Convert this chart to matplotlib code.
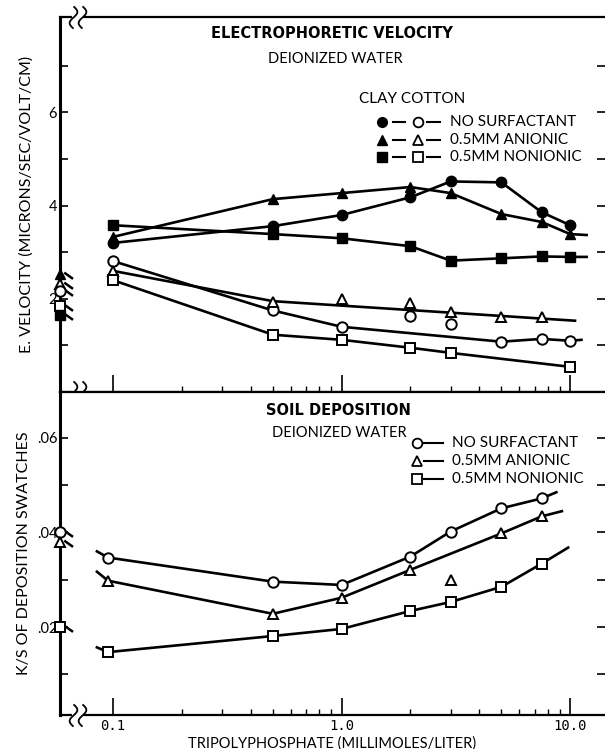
import numpy as np
import matplotlib
matplotlib.use('Agg')
import matplotlib.pyplot as plt
from matplotlib.path import Path
from matplotlib.ticker import FixedLocator, NullFormatter

plt.rcParams['font.family'] = ['Lato', 'DejaVu Sans']

# --- electrophoretic velocity (upper panel) ---
x_vel = [0.1, 0.5, 1.0, 2.0, 3.0, 5.0, 7.5, 10.0]
clay_none = [3.20, 3.56, 3.80, 4.18, 4.52, 4.50, 3.86, 3.58]
clay_anionic = [3.33, 4.14, 4.27, 4.40, 4.27, 3.82, 3.65, 3.39]
clay_nonionic = [3.58, 3.39, 3.30, 3.13, 2.82, 2.87, 2.91, 2.90]
cotton_none = [2.81, 1.75, 1.40, 1.64, 1.47, 1.08, 1.14, 1.10]
x_vel_an = [0.1, 0.5, 1.0, 2.0, 3.0, 5.0, 7.5]
cotton_anionic = [2.60, 1.94, 2.00, 1.91, 1.72, 1.62, 1.61]
x_vel_non = [0.1, 0.5, 1.0, 2.0, 3.0, 10.0]
cotton_nonionic = [2.40, 1.23, 1.12, 0.95, 0.84, 0.54]

# hand drawn curves through the points
clay_anionic_cx = x_vel + [11.8]
clay_anionic_cy = clay_anionic + [3.37]
clay_nonionic_cx = x_vel + [11.8]
clay_nonionic_cy = clay_nonionic + [2.90]
cotton_none_cx = [0.1, 0.5, 1.0, 5.0, 7.5, 10.0, 11.2]
cotton_none_cy = [2.81, 1.75, 1.40, 1.08, 1.14, 1.10, 1.12]
cotton_anionic_cx = [0.1, 0.5, 10.5]
cotton_anionic_cy = [2.60, 1.95, 1.53]

# values at zero tripolyphosphate (drawn on the axis)
vel_zero = {'clay_anionic': 2.53, 'cotton_anionic': 2.32, 'cotton_none': 2.17,
            'cotton_nonionic': 1.85, 'clay_nonionic': 1.66}

# --- soil deposition (lower panel) ---
x_dep = [0.095, 0.5, 1.0, 2.0, 3.0, 5.0, 7.5]
dep_none = [0.0347, 0.0296, 0.0289, 0.0349, 0.0402, 0.0451, 0.0472]
dep_anionic = [0.0298, 0.0228, 0.0262, 0.0321, 0.0300, 0.0398, 0.0434]
dep_nonionic = [0.0147, 0.0181, 0.0196, 0.0234, 0.0253, 0.0285, 0.0334]

dep_none_cx = [0.085, 0.095, 0.5, 1.0, 2.0, 3.0, 5.0, 7.5, 8.7]
dep_none_cy = [0.0360, 0.0347, 0.0296, 0.0289, 0.0349, 0.0402, 0.0451, 0.0472, 0.0485]
dep_anionic_cx = [0.085, 0.095, 0.5, 1.0, 2.0, 5.0, 7.5, 9.2]
dep_anionic_cy = [0.0317, 0.0298, 0.0228, 0.0262, 0.0321, 0.0398, 0.0434, 0.0445]
dep_nonionic_cx = [0.085, 0.095, 0.5, 1.0, 2.0, 3.0, 5.0, 7.5, 9.8]
dep_nonionic_cy = [0.0157, 0.0147, 0.0181, 0.0196, 0.0234, 0.0253, 0.0285, 0.0334, 0.0368]

dep_zero = {'none': 0.0402, 'anionic': 0.0380, 'nonionic': 0.0200}

XMIN, XMAX = 0.0586, 14.2
LW = 1.9
MS = 7.5

# little slanted stroke next to the zero points
tail = Path([(0.3, 0.15), (1.0, -0.35)], [Path.MOVETO, Path.LINETO])
# axis break squiggle
t = np.linspace(-1, 1, 20)
squig = Path(np.column_stack([0.35 * np.sin(np.pi * t), t]))

fig = plt.figure(figsize=(6.05, 7.49), dpi=100)
ax1 = fig.add_axes([60 / 605, 1 - 392 / 749, 545 / 605, 375 / 749])
ax2 = fig.add_axes([60 / 605, 1 - 715 / 749, 545 / 605, 323 / 749])


def closed(ax, x, y, m):
    ax.plot(x, y, linestyle='none', marker=m, ms=MS, color='black', zorder=4)


def opened(ax, x, y, m, ms=MS):
    ax.plot(x, y, linestyle='none', marker=m, ms=ms, color='black', mfc='white',
            mew=1.4, zorder=4)


def zero_pt(ax, y, m, filled):
    x0 = ax.get_xlim()[0]
    ax.plot([x0], [y], marker=tail, ms=18, mew=1.8, color='black', clip_on=False, zorder=3)
    if filled:
        ax.plot([x0], [y], marker=m, ms=MS, color='black', clip_on=False, zorder=5)
    else:
        ax.plot([x0], [y], marker=m, ms=MS, color='black', mfc='white', mew=1.4,
                clip_on=False, zorder=5)


for ax in (ax1, ax2):
    ax.set_xscale('log')
    ax.set_xlim(XMIN, XMAX)

# upper panel
ax1.set_ylim(0, 8.05)
ax1.plot(x_vel, clay_none, color='black', lw=LW)
ax1.plot(clay_anionic_cx, clay_anionic_cy, color='black', lw=LW)
ax1.plot(clay_nonionic_cx, clay_nonionic_cy, color='black', lw=LW)
ax1.plot(cotton_none_cx, cotton_none_cy, color='black', lw=LW)
ax1.plot(cotton_anionic_cx, cotton_anionic_cy, color='black', lw=LW)
ax1.plot(x_vel_non, cotton_nonionic, color='black', lw=LW)
closed(ax1, x_vel, clay_none, 'o')
closed(ax1, x_vel, clay_anionic, '^')
closed(ax1, x_vel, clay_nonionic, 's')
opened(ax1, x_vel, cotton_none, 'o')
opened(ax1, x_vel_an, cotton_anionic, '^')
opened(ax1, x_vel_non, cotton_nonionic, 's')

zero_pt(ax1, vel_zero['clay_anionic'], '^', True)
zero_pt(ax1, vel_zero['cotton_anionic'], '^', False)
zero_pt(ax1, vel_zero['cotton_none'], 'o', False)
zero_pt(ax1, vel_zero['cotton_nonionic'], 's', False)
zero_pt(ax1, vel_zero['clay_nonionic'], 's', True)

# lower panel
ax2.set_ylim(0.0014, 0.0697)
ax2.plot(dep_none_cx, dep_none_cy, color='black', lw=LW)
ax2.plot(dep_anionic_cx, dep_anionic_cy, color='black', lw=LW)
ax2.plot(dep_nonionic_cx, dep_nonionic_cy, color='black', lw=LW)
opened(ax2, x_dep, dep_none, 'o')
opened(ax2, x_dep, dep_anionic, '^')
opened(ax2, x_dep, dep_nonionic, 's')
zero_pt(ax2, dep_zero['none'], 'o', False)
zero_pt(ax2, dep_zero['anionic'], '^', False)
zero_pt(ax2, dep_zero['nonionic'], 's', False)

# axes styling
for ax in (ax1, ax2):
    ax.spines['right'].set_visible(False)
    ax.spines['left'].set_linewidth(2.2)
    ax.spines['top'].set_linewidth(1.6)
    ax.spines['bottom'].set_linewidth(1.6)
    ax.tick_params(axis='y', which='both', direction='in', length=6, width=1.2,
                   right=True, labelsize=10.5, pad=2)
    ax.tick_params(axis='x', which='major', direction='in', length=12, width=1.2, top=False)
    ax.tick_params(axis='x', which='minor', direction='in', length=4, width=1.0, top=False)
    ax.xaxis.set_major_locator(FixedLocator([0.1, 1.0, 10.0]))
    ax.xaxis.set_minor_locator(FixedLocator([0.2, 0.3, 0.4, 0.5, 0.6, 0.7, 0.8, 0.9,
                                             2, 3, 4, 5, 6, 7, 8, 9]))
    ax.xaxis.set_minor_formatter(NullFormatter())

ax1.set_yticks([2, 4, 6])
ax1.set_yticks([1, 3, 5, 7], minor=True)
ax1.set_yticklabels(['2', '4', '6'])
ax1.set_xticklabels([])

ax2.set_yticks([0.02, 0.04, 0.06])
ax2.set_yticks([0.01, 0.03, 0.05], minor=True)
ax2.set_yticklabels(['.02', '.04', '.06'])
ax2.set_xticklabels(['0.1', '1.0', '10.0'], family='DejaVu Sans Mono', fontsize=10)
ax2.tick_params(axis='x', which='major', pad=3)

ax1.set_ylabel('E. VELOCITY (MICRONS/SEC/VOLT/CM)', fontsize=11.5, labelpad=11)
ax2.set_ylabel('K/S OF DEPOSITION SWATCHES', fontsize=11.5, labelpad=4)
ax2.set_xlabel('TRIPOLYPHOSPHATE (MILLIMOLES/LITER)', fontsize=10.5, labelpad=2)

# axis breaks on the horizontal lines
for ax, ys in ((ax1, (0, 1)), (ax2, (0,))):
    for yb in ys:
        ax.plot([0.026, 0.038], [yb, yb], transform=ax.transAxes, color='white',
                lw=3, clip_on=False, zorder=6)
        ax.plot([0.024, 0.040], [yb, yb], transform=ax.transAxes, linestyle='none',
                marker=squig, ms=16, mew=1.3, mfc='none', color='black',
                clip_on=False, zorder=7)

# titles and legends, upper
bold = dict(family='DejaVu Sans', fontweight='bold')
ax1.text(0.499, 0.957, 'ELECTROPHORETIC VELOCITY', transform=ax1.transAxes,
         ha='center', va='center', fontsize=10.5, **bold)
ax1.text(0.506, 0.888, 'DEIONIZED WATER', transform=ax1.transAxes,
         ha='center', va='center', fontsize=10.5)
ax1.text(0.646, 0.781, 'CLAY COTTON', transform=ax1.transAxes,
         ha='center', va='center', fontsize=11)

leg_labels = ['NO SURFACTANT', '0.5MM ANIONIC', '0.5MM NONIONIC']
leg_markers = ['o', '^', 's']
for lab, m, yy in zip(leg_labels, leg_markers, [0.72, 0.672, 0.627]):
    ax1.plot([0.591], [yy], marker=m, ms=7, color='black', transform=ax1.transAxes)
    ax1.plot([0.611, 0.633], [yy, yy], color='black', lw=1.5, transform=ax1.transAxes)
    ax1.plot([0.657], [yy], marker=m, ms=7, color='black', mfc='white', mew=1.3,
             transform=ax1.transAxes)
    ax1.plot([0.673, 0.697], [yy, yy], color='black', lw=1.5, transform=ax1.transAxes)
    ax1.text(0.716, yy, lab, transform=ax1.transAxes, va='center', ha='left', fontsize=11)

# titles and legend, lower
ax2.text(0.51, 0.944, 'SOIL DEPOSITION', transform=ax2.transAxes,
         ha='center', va='center', fontsize=10.5, **bold)
ax2.text(0.512, 0.873, 'DEIONIZED WATER', transform=ax2.transAxes,
         ha='center', va='center', fontsize=10.5)
for lab, m, yy in zip(leg_labels, leg_markers, [0.842, 0.786, 0.731]):
    ax2.plot([0.655], [yy], marker=m, ms=7, color='black', mfc='white', mew=1.3,
             transform=ax2.transAxes)
    ax2.plot([0.668, 0.703], [yy, yy], color='black', lw=1.5, transform=ax2.transAxes)
    ax2.text(0.719, yy, lab, transform=ax2.transAxes, va='center', ha='left', fontsize=11)

fig.savefig('out.png', dpi=100)
